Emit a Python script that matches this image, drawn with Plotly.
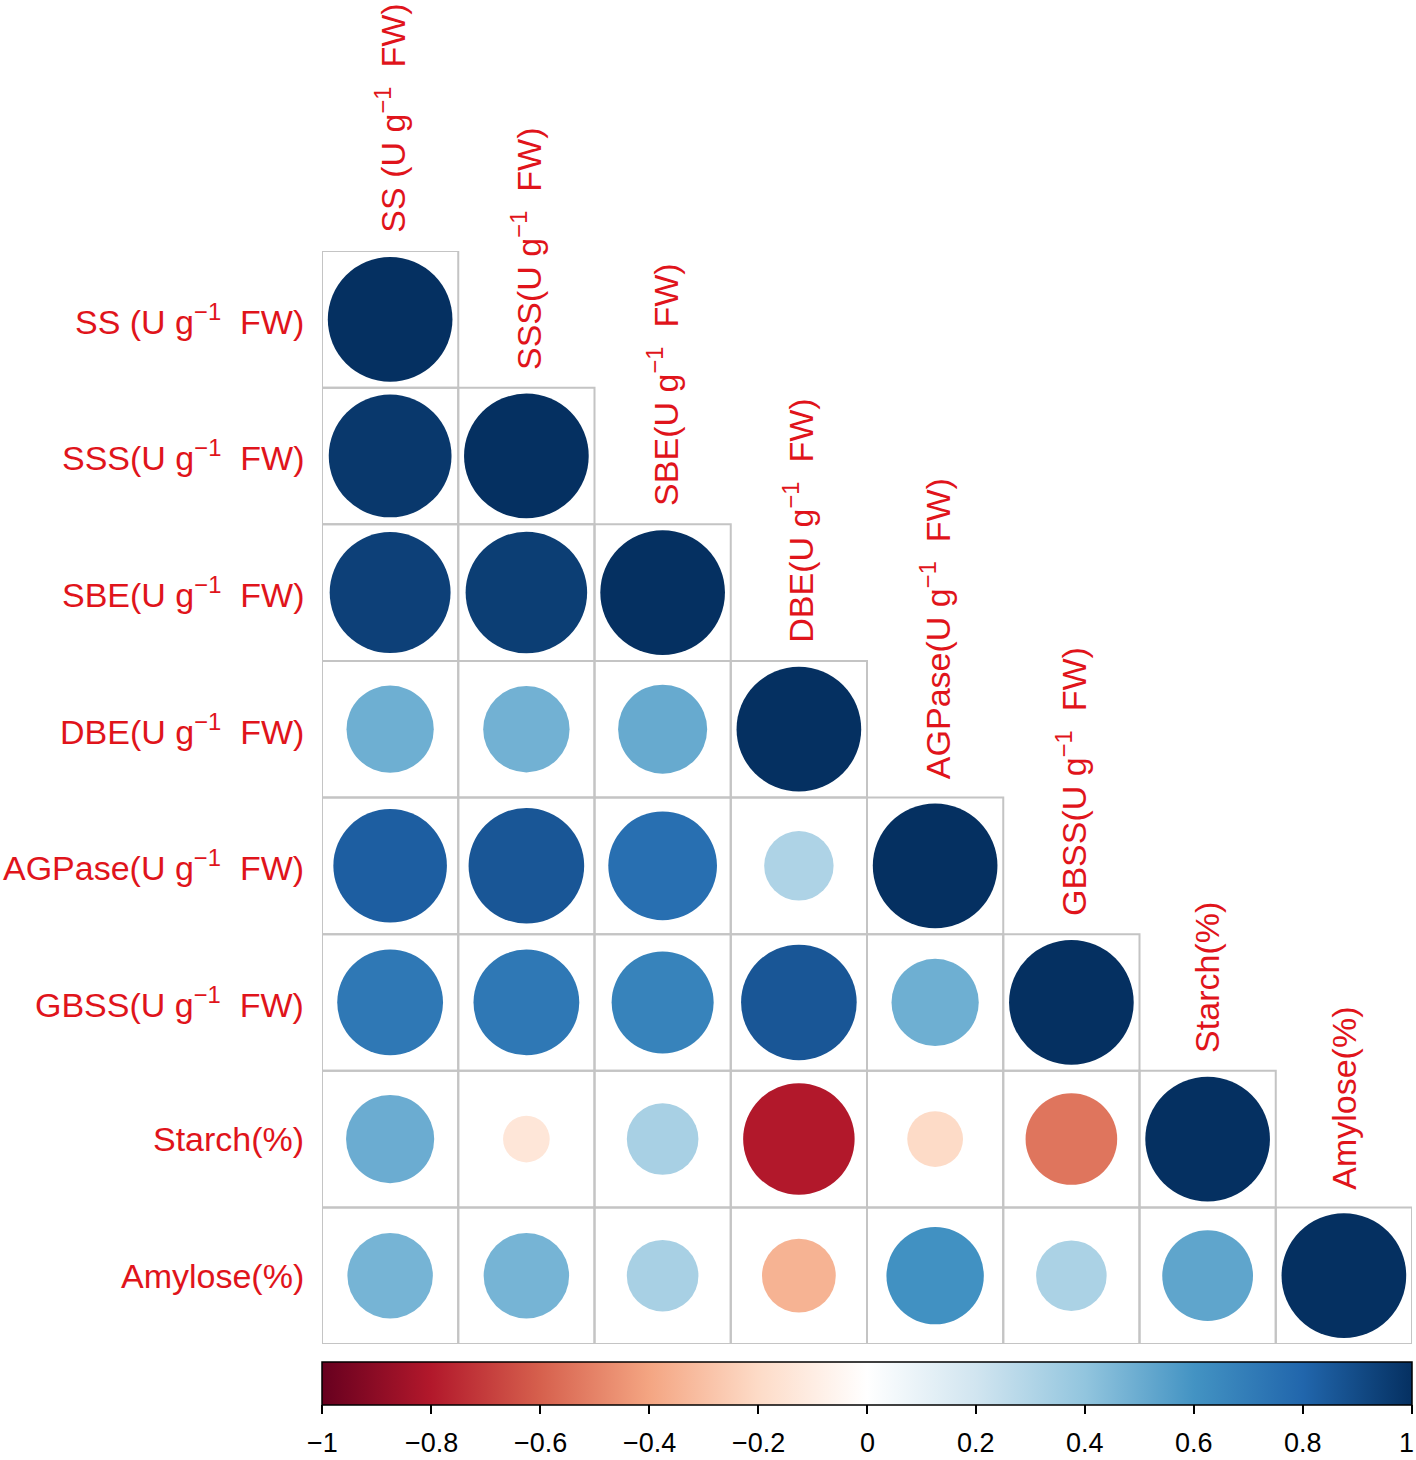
import numpy as np
import plotly.graph_objects as go

# ---- data ----
short_names = ["SS", "SSS", "SBE", "DBE", "AGPase", "GBSS", "Starch", "Amylose"]
row_labels = [
    "SS (U g<sup>−1</sup>\u00a0 FW)",
    "SSS(U g<sup>−1</sup>\u00a0 FW)",
    "SBE(U g<sup>−1</sup>\u00a0 FW)",
    "DBE(U g<sup>−1</sup>\u00a0 FW)",
    "AGPase(U g<sup>−1</sup>\u00a0 FW)",
    "GBSS(U g<sup>−1</sup>\u00a0 FW)",
    "Starch(%)",
    "Amylose(%)",
]
corr_rows = [
    [1.00],
    [0.97, 1.00],
    [0.94, 0.95, 1.00],
    [0.49, 0.48, 0.51, 1.00],
    [0.83, 0.86, 0.76, 0.31, 1.00],
    [0.72, 0.72, 0.67, 0.86, 0.49, 1.00],
    [0.50, -0.14, 0.33, -0.80, -0.20, -0.54, 1.00],
    [0.47, 0.47, 0.33, -0.35, 0.61, 0.32, 0.53, 1.00],
]
cbar_ticks = [-1, -0.8, -0.6, -0.4, -0.2, 0, 0.2, 0.4, 0.6, 0.8, 1]
cbar_ticktext = ["−1", "−0.8", "−0.6", "−0.4", "−0.2", "0", "0.2", "0.4", "0.6", "0.8", "1"]

rdbu = ["#67001F", "#B2182B", "#D6604D", "#F4A582", "#FDDBC7", "#FFFFFF",
        "#D1E5F0", "#92C5DE", "#4393C3", "#2166AC", "#053061"]
colorscale = [[i / 10, c] for i, c in enumerate(rdbu)]

W, H = 1416, 1460
ML, MR, MT, MB = 322, 4, 251, 116
n = len(short_names)
cell_px = (W - ML - MR) / n
plot_h = H - MT - MB
max_diam = cell_px * 0.915
label_color = "#E0141B"
font_fam = "Liberation Sans, Arial, sans-serif"
label_size = 34

xs, ys, vals = [], [], []
for i, row in enumerate(corr_rows):
    for j, v in enumerate(row):
        xs.append(j + 1)
        ys.append(i + 1)
        vals.append(v)
vals = np.array(vals)
sizes = max_diam * np.sqrt(np.abs(vals))

fig = go.Figure()

shapes = []
for i, row in enumerate(corr_rows):
    for j in range(len(row)):
        shapes.append(dict(type="rect", xref="x", yref="y",
                           x0=j + 0.5, x1=j + 1.5, y0=i + 0.5, y1=i + 1.5,
                           line=dict(color="#C4C4C4", width=2), fillcolor="rgba(0,0,0,0)",
                           layer="below"))

# colorbar tick positions (slightly inside the ends so the end ticks are kept)
tick_pos = [min(max(t, -0.99999), 0.99999) for t in cbar_ticks]

fig.add_trace(go.Scatter(
    x=xs, y=ys, mode="markers",
    marker=dict(size=sizes, color=vals, colorscale=colorscale, cmin=-1, cmax=1,
                line=dict(width=0), opacity=1,
                colorbar=dict(orientation="h", x=0.5, xanchor="center",
                              y=-0.0165, yanchor="top", len=1, lenmode="fraction",
                              thickness=43, thicknessmode="pixels",
                              xpad=0, ypad=0, outlinecolor="black", outlinewidth=1.5,
                              tickmode="array", tickvals=tick_pos, ticktext=[""] * len(tick_pos),
                              ticks="outside", ticklen=9, tickwidth=1.5, tickcolor="black",
                              showticklabels=False)),
    hoverinfo="skip", showlegend=False))

annotations = []
for i, lab in enumerate(row_labels):
    annotations.append(dict(x=0.5, y=i + 1, xref="x", yref="y", text=lab,
                            showarrow=False, xanchor="right", yanchor="middle",
                            xshift=-16, font=dict(size=label_size, color=label_color, family=font_fam)))
    annotations.append(dict(x=i + 1, y=i + 0.5, xref="x", yref="y", text=lab,
                            showarrow=False, xanchor="center", yanchor="bottom",
                            textangle=-90, yshift=16,
                            font=dict(size=label_size, color=label_color, family=font_fam)))

# colorbar tick labels placed along the same x scale as the bar (-1..1 -> 0.5..n+0.5)
for k, (t, txt) in enumerate(zip(cbar_ticks, cbar_ticktext)):
    annotations.append(dict(x=0.5 + (t + 1) / 2 * n, y=-(1443 - (H - MB)) / plot_h,
                            xref="x", yref="paper", text=txt, showarrow=False,
                            xanchor="center", yanchor="middle",
                            xshift=(-6 if k == len(cbar_ticks) - 1 else 0),
                            font=dict(size=27, color="black", family=font_fam)))

fig.update_layout(
    width=W, height=H, autosize=False,
    margin=dict(l=ML, r=MR, t=MT, b=MB),
    paper_bgcolor="white", plot_bgcolor="white",
    shapes=shapes, annotations=annotations,
    xaxis=dict(range=[0.5, n + 0.5], visible=False, fixedrange=True),
    yaxis=dict(range=[n + 0.5, 0.5], visible=False, fixedrange=True),
)

fig.write_html("out.html", config={"displayModeBar": False},
               post_script="document.body.style.margin='0';document.body.style.overflow='hidden';")
